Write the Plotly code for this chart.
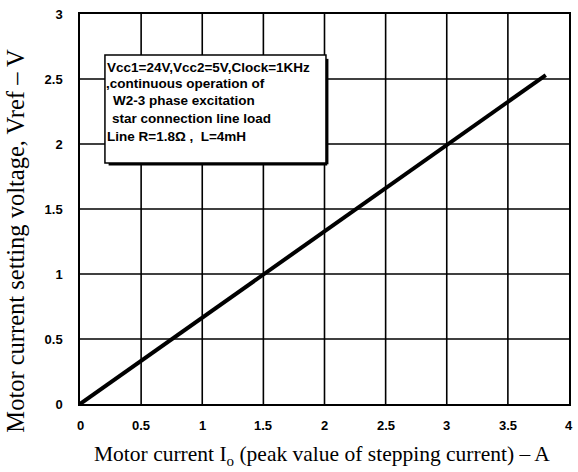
import plotly.graph_objects as go

# Data
current_a = [0.0, 3.81]
vref_v = [0.0, 2.53]
x_ticks = [0, 0.5, 1, 1.5, 2, 2.5, 3, 3.5, 4]
y_ticks = [0, 0.5, 1, 1.5, 2, 2.5, 3]
x_labels = ["0", "0.5", "1", "1.5", "2", "2.5", "3", "3.5", "4"]
y_labels = ["0", "0.5", "1", "1.5", "2", "2.5", "3"]
note_lines = [
    "Vcc1=24V,Vcc2=5V,Clock=1KHz",
    ",continuous operation of",
    "W2-3 phase excitation",
    "star connection line load",
    "Line R=1.8\u03a9 ,  L=4mH",
]

fig = go.Figure()
fig.add_trace(go.Scatter(x=current_a, y=vref_v, mode="lines",
                         line=dict(color="black", width=4), showlegend=False))

tickfont = dict(family="Liberation Sans, Arial", size=13, color="black", weight="bold")
axis_common = dict(showgrid=False,
                   showline=True, linecolor="black", linewidth=1.5, mirror=True,
                   zeroline=False, ticks="outside", tickcolor="rgba(0,0,0,0)",
                   tickfont=tickfont)

fig.update_xaxes(range=[x_ticks[0], x_ticks[-1]], tickvals=x_ticks, showticklabels=False,
                 ticklen=3, **axis_common)
fig.update_yaxes(range=[y_ticks[0], y_ticks[-1]], tickvals=y_ticks, ticktext=y_labels,
                 ticklen=13, **axis_common)

# Grid lines (from tick values)
for xv in x_ticks[1:-1]:
    fig.add_shape(type="line", xref="x", yref="y", x0=xv, x1=xv, y0=y_ticks[0], y1=y_ticks[-1],
                  line=dict(color="black", width=1.6), layer="above")
for yv in y_ticks[1:-1]:
    fig.add_shape(type="line", xref="x", yref="y", x0=x_ticks[0], x1=x_ticks[-1], y0=yv, y1=yv,
                  line=dict(color="black", width=1.6), layer="above")

# X tick labels
for xv, lab in zip(x_ticks, x_labels):
    fig.add_annotation(text=lab, xref="x", yref="paper", x=xv, y=-0.056,
                       xanchor="center", yanchor="middle", showarrow=False, font=tickfont)

# Axis titles
fig.add_annotation(text="Motor current I<sub>o</sub> (peak value of stepping current) \u2013 A",
                   xref="paper", yref="paper", x=0.495, y=-0.131, xanchor="center", yanchor="middle",
                   showarrow=False,
                   font=dict(family="Liberation Serif, Times New Roman", size=21.5, color="black"))
fig.add_annotation(text="Motor current setting voltage, Vref \u2013 V", textangle=-90,
                   xref="paper", yref="paper", x=-0.132, y=0.42, xanchor="center", yanchor="middle",
                   showarrow=False,
                   font=dict(family="Liberation Serif, Times New Roman", size=24.5, color="black"))

# Note box with drop shadow
bx0, bx1, by0, by1 = 0.204, 2.012, 1.854, 2.685
fig.add_shape(type="rect", xref="x", yref="y", x0=bx0, x1=bx1, y0=by0, y1=by1,
              fillcolor="white", line=dict(color="black", width=1.5), layer="above")
fig.add_shape(type="line", xref="x", yref="y", x0=bx1 + 0.01, x1=bx1 + 0.01, y0=by0 - 0.01, y1=by1 - 0.03,
              line=dict(color="black", width=2.5), layer="above")
fig.add_shape(type="line", xref="x", yref="y", x0=bx0 + 0.03, x1=bx1 + 0.01, y0=by0 - 0.01, y1=by0 - 0.01,
              line=dict(color="black", width=2.5), layer="above")

line_y = [0.864, 0.823, 0.779, 0.733, 0.685]
line_x = [0.052, 0.050, 0.063, 0.061, 0.052]
for txt, yy, xx in zip(note_lines, line_y, line_x):
    fig.add_annotation(text=f"<b>{txt}</b>", xref="paper", yref="paper", x=xx, y=yy,
                       xanchor="left", yanchor="middle", showarrow=False,
                       font=dict(family="Liberation Sans, Arial", size=13.5, color="black"))

fig.update_layout(width=578, height=472, margin=dict(l=80, r=7, t=14, b=68),
                  plot_bgcolor="white", paper_bgcolor="white")

fig.write_html("out.html", config={"displayModeBar": False},
               post_script="document.body.style.margin='0';document.body.style.overflow='hidden';")
